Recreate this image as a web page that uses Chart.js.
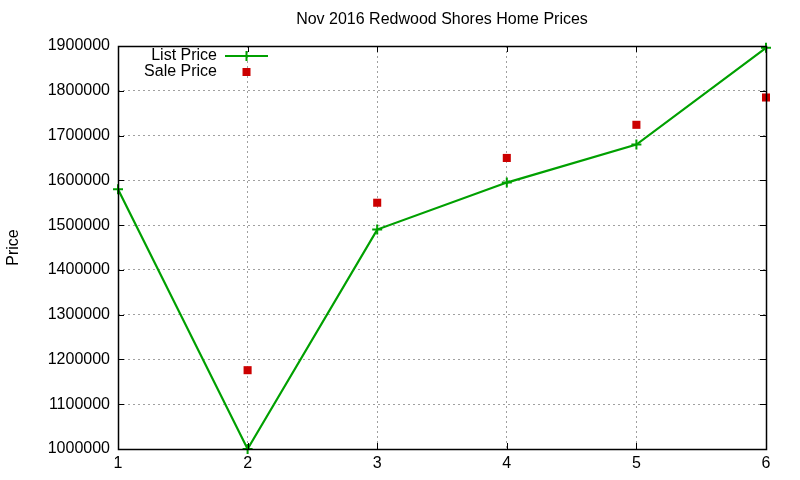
<!DOCTYPE html>
<html><head><meta charset="utf-8">
<script src="https://cdn.jsdelivr.net/npm/chart.js@4"></script>
<style>html,body{margin:0;padding:0;background:#fff}#wrap{width:800px;height:480px}</style>
</head><body><div id="wrap"><canvas id="c" width="800" height="480"></canvas></div>
<script>
const chartTitle = "Nov 2016 Redwood Shores Home Prices";
const yTitle = "Price";
const xCats = [1, 2, 3, 4, 5, 6];
const listPrice = [1580000, 1000000, 1490000, 1595000, 1680000, 1896000];
const saleCats = [2, 3, 4, 5, 6];
const salePrice = [1176000, 1550000, 1650000, 1724000, 1785000];
const yTicks = [1000000, 1100000, 1200000, 1300000, 1400000, 1500000, 1600000, 1700000, 1800000, 1900000];

const FONT = "'Liberation Sans', Arial, sans-serif";

const boxPlugin = {
  id: 'box',
  afterDatasetsDraw(chart) {
    const {ctx, chartArea: a, scales} = chart;
    ctx.save();
    ctx.strokeStyle = '#000';
    ctx.lineWidth = 1;
    ctx.beginPath();
    const tl = 6;
    scales.y.ticks.forEach(t => {
      const y = Math.round(scales.y.getPixelForValue(t.value)) + 0.5;
      ctx.moveTo(a.left, y); ctx.lineTo(a.left + tl, y);
      ctx.moveTo(a.right, y); ctx.lineTo(a.right - tl, y);
    });
    scales.x.ticks.forEach(t => {
      const x = Math.round(scales.x.getPixelForValue(t.value)) + 0.5;
      ctx.moveTo(x, a.bottom); ctx.lineTo(x, a.bottom - tl);
      ctx.moveTo(x, a.top); ctx.lineTo(x, a.top + tl);
    });
    ctx.stroke();
    ctx.lineWidth = 1.5;
    ctx.strokeRect(Math.round(a.left) + 0.5, Math.round(a.top) + 0.5, Math.round(a.right - a.left), Math.round(a.bottom - a.top));
    // title centered over plot area
    ctx.fillStyle = '#000';
    ctx.font = '16px ' + FONT;
    ctx.textAlign = 'center';
    ctx.textBaseline = 'middle';
    ctx.fillText(chartTitle, (a.left + a.right) / 2, 20);
    // legend
    ctx.textAlign = 'right';
    const ds = chart.data.datasets;
    const tx = 217, sx1 = 225, sx2 = 268, y0 = 56, dy = 16;
    ctx.fillText(ds[0].label, tx, y0);
    ctx.fillText(ds[1].label, tx, y0 + dy);
    ctx.strokeStyle = ds[0].borderColor;
    ctx.lineWidth = 2;
    ctx.beginPath();
    ctx.moveTo(sx1, y0); ctx.lineTo(sx2, y0);
    const mx = (sx1 + sx2) / 2;
    ctx.moveTo(mx, y0 - 5); ctx.lineTo(mx, y0 + 5);
    ctx.stroke();
    ctx.fillStyle = ds[1].backgroundColor;
    ctx.fillRect(mx - 4, y0 + dy - 4, 8, 8);
    ctx.restore();
  }
};

new Chart(document.getElementById('c'), {
  type: 'scatter',
  data: {
    datasets: [
      {
        label: 'List Price',
        data: xCats.map((x, i) => ({x, y: listPrice[i]})),
        showLine: true,
        clip: false,
        borderColor: '#00a000',
        backgroundColor: '#00a000',
        borderWidth: 2.2,
        pointStyle: 'cross',
        pointRadius: 5,
        pointBorderWidth: 2,
        pointHoverRadius: 5,
        tension: 0
      },
      {
        label: 'Sale Price',
        data: saleCats.map((x, i) => ({x, y: salePrice[i]})),
        showLine: false,
        clip: false,
        borderColor: '#cc0000',
        backgroundColor: '#cc0000',
        pointStyle: 'rect',
        pointRadius: 5.7,
        pointBorderWidth: 0,
        pointHoverRadius: 5.7
      }
    ]
  },
  options: {
    responsive: false,
    animation: false,
    events: [],
    layout: {padding: {left: 4, right: 34, top: 0, bottom: 0}},
    plugins: {
      legend: {display: false},
      tooltip: {enabled: false},
      title: {
        display: true,
        text: chartTitle,
        color: 'rgba(0,0,0,0)',
        font: {family: FONT, size: 15, weight: 'normal'},
        padding: {top: 11, bottom: 17}
      }
    },
    scales: {
      x: {
        type: 'linear',
        min: 1, max: 6,
        afterBuildTicks: s => { s.ticks = xCats.map(v => ({value: v})); },
        ticks: {color: '#000', font: {family: FONT, size: 16}, padding: 5, callback: v => String(v)},
        grid: {color: '#a0a0a0', lineWidth: 1, drawTicks: false, tickLength: 0},
        border: {display: false, dash: [2, 3]},
        afterFit: s => { s.height = 31; }
      },
      y: {
        type: 'linear',
        min: 1000000, max: 1900000,
        afterBuildTicks: s => { s.ticks = yTicks.map(v => ({value: v})); },
        ticks: {color: '#000', font: {family: FONT, size: 16}, padding: 8, callback: v => String(v)},
        grid: {color: '#a0a0a0', lineWidth: 1, drawTicks: false, tickLength: 0},
        border: {display: false, dash: [2, 3]},
        title: {display: true, text: yTitle, color: '#000', font: {family: FONT, size: 16}, padding: {top: 0, bottom: 8}},
        afterFit: s => { s.width = 114; }
      }
    }
  },
  plugins: [boxPlugin]
});
</script>
</body></html>
